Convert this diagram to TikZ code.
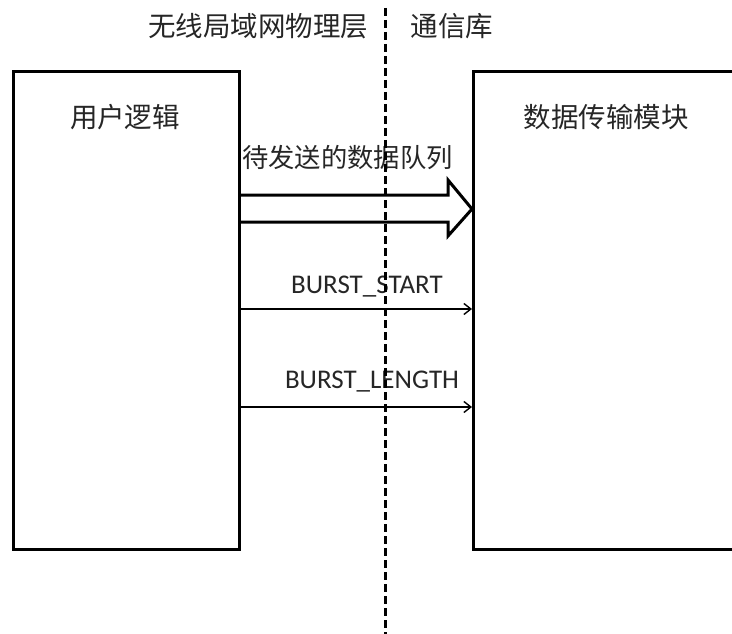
\documentclass[tikz,border=0pt]{standalone}
\usepackage{fontspec}
\setmainfont{Carlito}
\newfontfamily\cjk{Noto Sans CJK SC}
\usetikzlibrary{arrows.meta}
\begin{document}
\begin{tikzpicture}[x=1pt,y=-1pt,
  boxstyle/.style={draw=black,line width=3pt,fill=white,inner sep=0pt},
  cjklabel/.style={font=\cjk\fontsize{27.5}{32}\selectfont,text=black!85,inner sep=0pt},
  siglabel/.style={font=\fontsize{27}{32}\selectfont,text=black!85,inner sep=0pt},
  sigarrow/.style={line width=1.6pt,-{Straight Barb[length=7pt,width=11pt,line width=1.4pt]}},
  divider/.style={line width=3pt,dash pattern=on 8pt off 4pt}]
\useasboundingbox (0,0) rectangle (732,634);
\clip (0,0) rectangle (732,634);
% boxes
\node[boxstyle,minimum width=226pt,minimum height=478pt,anchor=north west] (user) at (12,70) {};
\node[boxstyle,minimum width=290pt,minimum height=478pt,anchor=north west] (dtm) at (472,70) {};
% box titles
\node[cjklabel] (userlbl) at (125,117) {用户逻辑};
\node[cjklabel] (dtmlbl) at (606,117) {数据传输模块};
% top labels
\node[cjklabel] (phy) at (258,26) {无线局域网物理层};
\node[cjklabel] (lib) at (452,26) {通信库};
% hollow arrow
\node[cjklabel,font=\cjk\fontsize{26.3}{31}\selectfont,anchor=west] (queue) at (242,158) {待发送的数据队列};
\coordinate (qs1) at (user.east |- 0,195);
\coordinate (qs2) at (user.east |- 0,222);
\draw[line width=3pt,line join=miter,fill=white] (qs1) -- (448,195) -- (448,180) -- (dtm.west |- 0,209) -- (448,236) -- (448,222) -- (qs2);
% signal arrows
\node[siglabel] (bs) at (367,287) {BURST\_START};
\node[siglabel] (bl) at (372,382) {BURST\_LENGTH};
\draw[sigarrow] (user.east |- 0,309) -- (dtm.west |- 0,309);
\draw[sigarrow] (user.east |- 0,407) -- (dtm.west |- 0,407);
% divider
\coordinate (dtop) at (385,8);
\coordinate (dbot) at (385,640);
\draw[divider] (dtop) -- (dbot);
\end{tikzpicture}
\end{document}
